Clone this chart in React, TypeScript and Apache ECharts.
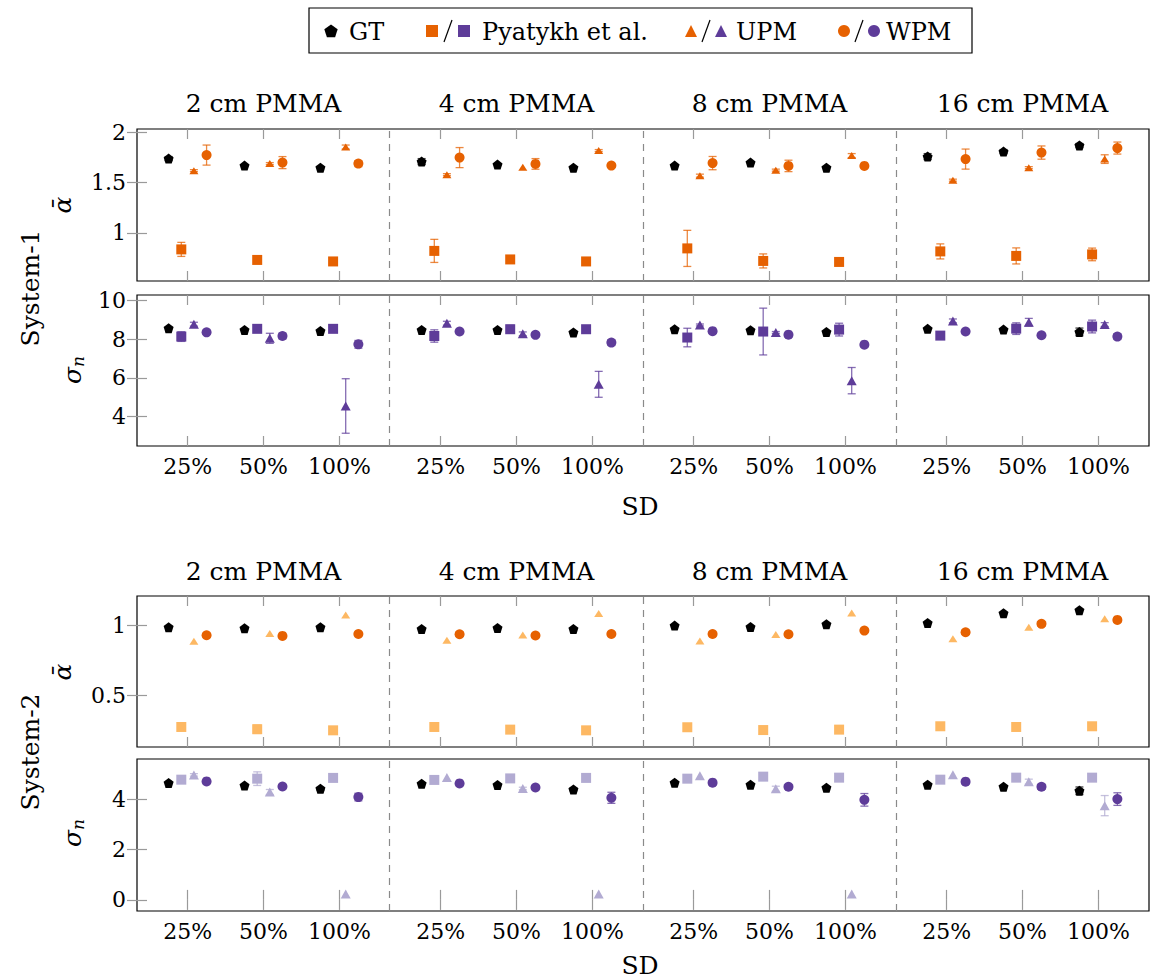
import React, { useEffect, useRef } from 'react';
import * as echarts from 'echarts';

// ---------- categories / labels ----------
const thicknesses = ['2 cm PMMA', '4 cm PMMA', '8 cm PMMA', '16 cm PMMA'];
const sdLabels = ['25%', '50%', '100%'];
const methodNames = ['GT', 'Pyatykh et al.', 'UPM', 'WPM'];
const systems = ['System-1', 'System-2'];

// order of the 12 values: [2cm: 25,50,100, 4cm: 25,50,100, 8cm: ..., 16cm: ...]

// ---------- System-1, alpha ----------
const s1AlphaGT = [1.74, 1.67, 1.65, 1.71, 1.68, 1.65, 1.67, 1.70, 1.65, 1.76, 1.81, 1.87];
const s1AlphaGTErr = [0.02, 0, 0, 0.03, 0, 0, 0, 0, 0, 0.03, 0.02, 0.02];
const s1AlphaPy = [0.835, 0.73, 0.715, 0.82, 0.735, 0.715, 0.845, 0.72, 0.71, 0.815, 0.77, 0.785];
const s1AlphaPyErr = [0.07, 0.02, 0, 0.115, 0.035, 0, 0.18, 0.07, 0, 0.075, 0.08, 0.063];
const s1AlphaUPM = [1.62, 1.69, 1.855, 1.58, 1.655, 1.82, 1.57, 1.625, 1.77, 1.525, 1.65, 1.735];
const s1AlphaUPMErr = [0.01, 0.01, 0.02, 0.01, 0, 0.01, 0.015, 0.01, 0.02, 0.01, 0.01, 0.043];
const s1AlphaWPM = [1.775, 1.70, 1.69, 1.75, 1.687, 1.67, 1.695, 1.667, 1.667, 1.735, 1.80, 1.845];
const s1AlphaWPMErr = [0.10, 0.06, 0.03, 0.10, 0.053, 0.015, 0.066, 0.057, 0.01, 0.10, 0.066, 0.06];

// ---------- System-1, sigma_n ----------
const s1SigmaGT = [8.57, 8.48, 8.43, 8.48, 8.48, 8.35, 8.52, 8.47, 8.38, 8.54, 8.50, 8.38];
const s1SigmaGTErr = [0, 0, 0, 0, 0, 0.05, 0, 0, 0, 0, 0, 0.2];
const s1SigmaPy = [8.14, 8.54, 8.54, 8.17, 8.52, 8.52, 8.09, 8.40, 8.50, 8.19, 8.55, 8.66];
const s1SigmaPyErr = [0.25, 0.05, 0.05, 0.32, 0.2, 0.05, 0.48, 1.21, 0.33, 0.1, 0.30, 0.33];
const s1SigmaUPM = [8.78, 8.05, 4.55, 8.83, 8.28, 5.67, 8.74, 8.35, 5.86, 8.95, 8.88, 8.76];
const s1SigmaUPMErr = [0.1, 0.26, 1.41, 0.1, 0.1, 0.67, 0.05, 0.05, 0.68, 0.1, 0.2, 0.1];
const s1SigmaWPM = [8.36, 8.17, 7.74, 8.40, 8.23, 7.83, 8.42, 8.24, 7.72, 8.40, 8.21, 8.14];
const s1SigmaWPMErr = [0.05, 0.15, 0.2, 0.05, 0.1, 0.15, 0.05, 0.05, 0.1, 0.05, 0.05, 0.15];

// ---------- System-2, alpha ----------
const s2AlphaGT = [0.988, 0.981, 0.988, 0.976, 0.983, 0.976, 1.0, 0.99, 1.009, 1.019, 1.088, 1.109];
const s2AlphaGTErr = [0, 0, 0, 0, 0, 0, 0, 0, 0, 0, 0, 0];
const s2AlphaPy = [0.276, 0.26, 0.252, 0.276, 0.257, 0.252, 0.274, 0.254, 0.257, 0.281, 0.276, 0.281];
const s2AlphaPyErr = [0.01, 0.03, 0.01, 0.01, 0.01, 0.01, 0.01, 0.01, 0.01, 0.02, 0.01, 0.01];
const s2AlphaUPM = [0.888, 0.943, 1.076, 0.895, 0.933, 1.086, 0.89, 0.936, 1.09, 0.905, 0.988, 1.048];
const s2AlphaUPMErr = [0, 0, 0, 0, 0, 0, 0, 0, 0, 0, 0, 0];
const s2AlphaWPM = [0.931, 0.926, 0.94, 0.938, 0.929, 0.94, 0.94, 0.938, 0.964, 0.952, 1.012, 1.04];
const s2AlphaWPMErr = [0.01, 0.01, 0.01, 0.015, 0.01, 0.01, 0.01, 0.01, 0.01, 0.015, 0.015, 0.015];

// ---------- System-2, sigma_n ----------
const s2SigmaGT = [4.64, 4.54, 4.41, 4.61, 4.56, 4.38, 4.65, 4.57, 4.45, 4.57, 4.49, 4.33];
const s2SigmaGTErr = [0, 0, 0.05, 0, 0, 0.05, 0, 0, 0, 0, 0, 0.15];
const s2SigmaPy = [4.77, 4.81, 4.84, 4.76, 4.82, 4.84, 4.81, 4.89, 4.85, 4.77, 4.85, 4.85];
const s2SigmaPyErr = [0.05, 0.27, 0, 0, 0, 0, 0, 0, 0, 0, 0, 0];
const s2SigmaUPM = [4.96, 4.28, 0.23, 4.86, 4.42, 0.23, 4.93, 4.41, 0.23, 4.97, 4.69, 3.74];
const s2SigmaUPMErr = [0.05, 0.1, 0, 0, 0.05, 0, 0, 0.1, 0, 0, 0.1, 0.4];
const s2SigmaWPM = [4.70, 4.50, 4.08, 4.62, 4.46, 4.05, 4.65, 4.49, 3.97, 4.69, 4.49, 4.00];
const s2SigmaWPMErr = [0, 0, 0.15, 0, 0, 0.22, 0, 0, 0.25, 0, 0.1, 0.25];

// ---------- y tick labels ----------
const s1AlphaTicks = [1, 1.5, 2];
const s1SigmaTicks = [4, 6, 8, 10];
const s2AlphaTicks = [0.5, 1];
const s2SigmaTicks = [0, 2, 4];

const DARK_OR = '#e66101';
const LIGHT_OR = '#fdb863';
const LIGHT_PU = '#b2abd2';
const DARK_PU = '#5e3c99';
const FONT = 'DejaVu Serif';
const PENTAGON = 'path://M0,-1L0.951,-0.309L0.588,0.809L-0.588,0.809L-0.951,-0.309Z';

const GROUP_W = 10 / 3;
const SD_OFF = 2 / 3;
const METHOD_OFF = [-0.25, -0.083, 0.083, 0.25];

function xPos(i: number, m: number) {
  const g = Math.floor(i / 3);
  const k = i % 3;
  return g * GROUP_W + SD_OFF + k + METHOD_OFF[m];
}
const tickPos: number[] = [];
for (let g = 0; g < 4; g++) for (let k = 0; k < 3; k++) tickPos.push(g * GROUP_W + SD_OFF + k);
const xLabel = (v: number) => {
  const r = Math.round(v * 3) % 10;
  const k = Math.round((r - 2) / 3);
  return sdLabels[k] ?? '';
};

const panels = [
  {
    grid: { left: 137, top: 129, width: 1012, height: 152 },
    y: [0.52, 2.035], ticks: s1AlphaTicks, xLabels: false, alpha: true,
    series: [
      [s1AlphaGT, s1AlphaGTErr, '#000'],
      [s1AlphaPy, s1AlphaPyErr, DARK_OR],
      [s1AlphaUPM, s1AlphaUPMErr, DARK_OR],
      [s1AlphaWPM, s1AlphaWPMErr, DARK_OR],
    ],
  },
  {
    grid: { left: 137, top: 295, width: 1012, height: 151 },
    y: [2.48, 10.29], ticks: s1SigmaTicks, xLabels: true, alpha: false,
    series: [
      [s1SigmaGT, s1SigmaGTErr, '#000'],
      [s1SigmaPy, s1SigmaPyErr, DARK_PU],
      [s1SigmaUPM, s1SigmaUPMErr, DARK_PU],
      [s1SigmaWPM, s1SigmaWPMErr, DARK_PU],
    ],
  },
  {
    grid: { left: 137, top: 596, width: 1012, height: 151 },
    y: [0.133, 1.211], ticks: s2AlphaTicks, xLabels: false, alpha: true,
    series: [
      [s2AlphaGT, s2AlphaGTErr, '#000'],
      [s2AlphaPy, s2AlphaPyErr, LIGHT_OR],
      [s2AlphaUPM, s2AlphaUPMErr, LIGHT_OR],
      [s2AlphaWPM, s2AlphaWPMErr, DARK_OR],
    ],
  },
  {
    grid: { left: 137, top: 759, width: 1012, height: 152 },
    y: [-0.44, 5.59], ticks: s2SigmaTicks, xLabels: true, alpha: false,
    series: [
      [s2SigmaGT, s2SigmaGTErr, '#000'],
      [s2SigmaPy, s2SigmaPyErr, LIGHT_PU],
      [s2SigmaUPM, s2SigmaUPMErr, LIGHT_PU],
      [s2SigmaWPM, s2SigmaWPMErr, DARK_PU],
    ],
  },
];

function buildOption() {
  const grid: any[] = [];
  const xAxis: any[] = [];
  const yAxis: any[] = [];
  const series: any[] = [];
  const tickStyle = { color: '#9a9a9a', width: 1.2 };

  panels.forEach((p, gi) => {
    grid.push({ ...p.grid, show: true, borderColor: '#000', borderWidth: 1.2, backgroundColor: 'transparent' });
    ['bottom', 'top'].forEach((pos, j) => {
      xAxis.push({
        type: 'value', gridIndex: gi, position: pos, min: 0, max: 4 * GROUP_W,
        splitLine: { show: false }, axisLine: { show: false },
        axisTick: { show: true, inside: true, length: 10, customValues: tickPos, lineStyle: tickStyle },
        axisLabel: {
          show: j === 0 && p.xLabels, customValues: tickPos, formatter: xLabel,
          fontFamily: FONT, fontSize: 22, color: '#000', margin: 9,
        },
      });
    });
    ['left', 'right'].forEach((pos, j) => {
      yAxis.push({
        type: 'value', gridIndex: gi, position: pos, min: p.y[0], max: p.y[1],
        splitLine: { show: false }, axisLine: { show: false },
        axisTick: { show: true, inside: true, length: 10, customValues: p.ticks, lineStyle: tickStyle },
        axisLabel: {
          show: j === 0, customValues: p.ticks, formatter: (v: number) => String(v),
          fontFamily: FONT, fontSize: 22, color: '#000', margin: 11,
        },
      });
    });

    const symbols = [PENTAGON, 'rect', 'triangle', 'circle'];
    const sizes: any[] = [10, 10, p.alpha ? [9, 7] : [10, 9], 10];
    p.series.forEach((s: any, m: number) => {
      const vals = s[0] as number[];
      const errs = s[1] as number[];
      const color = s[2] as string;
      series.push({
        type: 'custom', name: methodNames[m] + ' err', xAxisIndex: 2 * gi, yAxisIndex: 2 * gi,
        silent: true, z: 2, clip: false,
        data: vals.map((v, i) => [xPos(i, m), v, errs[i]]),
        encode: { x: 0, y: 1 },
        renderItem: (params: any, api: any) => {
          const x = api.value(0), y = api.value(1), e = api.value(2);
          if (!e) return { type: 'group', children: [] };
          const t = api.coord([x, y + e]);
          const b = api.coord([x, y - e]);
          const c = 4;
          const st = { stroke: color, lineWidth: 1.3, opacity: 0.75 };
          return {
            type: 'group', children: [
              { type: 'line', shape: { x1: t[0], y1: t[1], x2: b[0], y2: b[1] }, style: st },
              { type: 'line', shape: { x1: t[0] - c, y1: t[1], x2: t[0] + c, y2: t[1] }, style: st },
              { type: 'line', shape: { x1: b[0] - c, y1: b[1], x2: b[0] + c, y2: b[1] }, style: st },
            ],
          };
        },
      });
      const sc: any = {
        type: 'scatter', name: methodNames[m], xAxisIndex: 2 * gi, yAxisIndex: 2 * gi,
        symbol: symbols[m], symbolSize: sizes[m], z: 3, silent: true,
        itemStyle: { color, opacity: 1 },
        data: vals.map((v, i) => [xPos(i, m), v]),
      };
      if (m === 0) {
        sc.markLine = {
          silent: true, symbol: 'none', label: { show: false },
          lineStyle: { color: '#8a8a8a', type: [7, 6], width: 1.2 },
          data: [{ xAxis: GROUP_W }, { xAxis: 2 * GROUP_W }, { xAxis: 3 * GROUP_W }],
        };
      }
      series.push(sc);
    });
  });

  // ---------- graphic: titles, axis names, legend ----------
  const graphic: any[] = [];
  const txt = (text: string, x: number, y: number, size: number, extra: any = {}) => ({
    type: 'text', x, y, silent: true, ...extra,
    style: { text, fill: '#000', fontFamily: FONT, fontSize: size, align: 'center', verticalAlign: 'middle', ...(extra.style || {}) },
  });
  const titleYs = [103, 571];
  titleYs.forEach((ty) => {
    thicknesses.forEach((t, g) => {
      const cx = 137 + (g + 0.5) * (1012 / 4);
      graphic.push(txt(t, cx, ty, 25));
    });
  });
  graphic.push(txt('SD', 640, 506, 25));
  graphic.push(txt('SD', 640, 965, 25));
  graphic.push(txt(systems[0], 30, 288, 25, { rotation: Math.PI / 2 }));
  graphic.push(txt(systems[1], 30, 752, 25, { rotation: Math.PI / 2 }));
  graphic.push(txt('ᾱ', 62, 205, 25, { rotation: Math.PI / 2, style: { fontStyle: 'italic' } }));
  graphic.push(txt('ᾱ', 62, 672, 25, { rotation: Math.PI / 2, style: { fontStyle: 'italic' } }));
  const sigmaLabel = (y: number) => ({
    type: 'text', x: 72, y, rotation: Math.PI / 2, silent: true,
    style: {
      text: '{s|σ}{n|n}', align: 'center', verticalAlign: 'middle',
      rich: {
        s: { fontFamily: FONT, fontStyle: 'italic', fontSize: 25, fill: '#000' },
        n: { fontFamily: FONT, fontStyle: 'italic', fontSize: 17, fill: '#000', padding: [11, 0, 0, 0] },
      },
    },
  });
  graphic.push(sigmaLabel(370));
  graphic.push(sigmaLabel(833));

  // legend box
  const ly = 31;
  graphic.push({ type: 'rect', silent: true, shape: { x: 309, y: 8, width: 663, height: 45 }, style: { fill: '#fff', stroke: '#000', lineWidth: 1.2 } });
  const pent = (cx: number, cy: number, r: number) => {
    const pts: number[][] = [];
    for (let i = 0; i < 5; i++) {
      const a = -Math.PI / 2 + (i * 2 * Math.PI) / 5;
      pts.push([cx + r * Math.cos(a), cy + r * Math.sin(a) + 0.5]);
    }
    return { type: 'polygon', silent: true, shape: { points: pts }, style: { fill: '#000' } };
  };
  const sq = (cx: number, color: string) => ({ type: 'rect', silent: true, shape: { x: cx - 6, y: ly - 6, width: 12, height: 12 }, style: { fill: color } });
  const tri = (cx: number, color: string) => ({ type: 'polygon', silent: true, shape: { points: [[cx, ly - 6], [cx + 6, ly + 6], [cx - 6, ly + 6]] }, style: { fill: color } });
  const circ = (cx: number, color: string) => ({ type: 'circle', silent: true, shape: { cx, cy: ly, r: 6 }, style: { fill: color } });
  const slash = (cx: number) => ({ type: 'line', silent: true, shape: { x1: cx - 4, y1: ly + 11, x2: cx + 4, y2: ly - 11 }, style: { stroke: '#000', lineWidth: 1.2 } });
  const ltxt = (t: string, x: number) => ({ type: 'text', x, y: ly + 1, silent: true, style: { text: t, fill: '#000', fontFamily: FONT, fontSize: 24, align: 'left', verticalAlign: 'middle' } });
  graphic.push(pent(331, ly, 7));
  graphic.push(ltxt(methodNames[0], 349));
  graphic.push(sq(432, DARK_OR), slash(448), sq(464, DARK_PU));
  graphic.push(ltxt(methodNames[1], 482));
  graphic.push(tri(691, DARK_OR), slash(706), tri(721, DARK_PU));
  graphic.push(ltxt(methodNames[2], 736));
  graphic.push(circ(844, DARK_OR), slash(859), circ(874, DARK_PU));
  graphic.push(ltxt(methodNames[3], 886));

  return {
    animation: false,
    backgroundColor: '#fff',
    grid, xAxis, yAxis, series, graphic,
  };
}

export default function App() {
  const ref = useRef<HTMLDivElement>(null);
  useEffect(() => {
    if (!ref.current) return;
    const chart = echarts.init(ref.current, undefined, { renderer: 'svg' });
    chart.setOption(buildOption() as any);
    return () => chart.dispose();
  }, []);
  return <div ref={ref} style={{ position: 'absolute', left: 0, top: 0, width: 1150, height: 979, background: '#fff' }} />;
}
